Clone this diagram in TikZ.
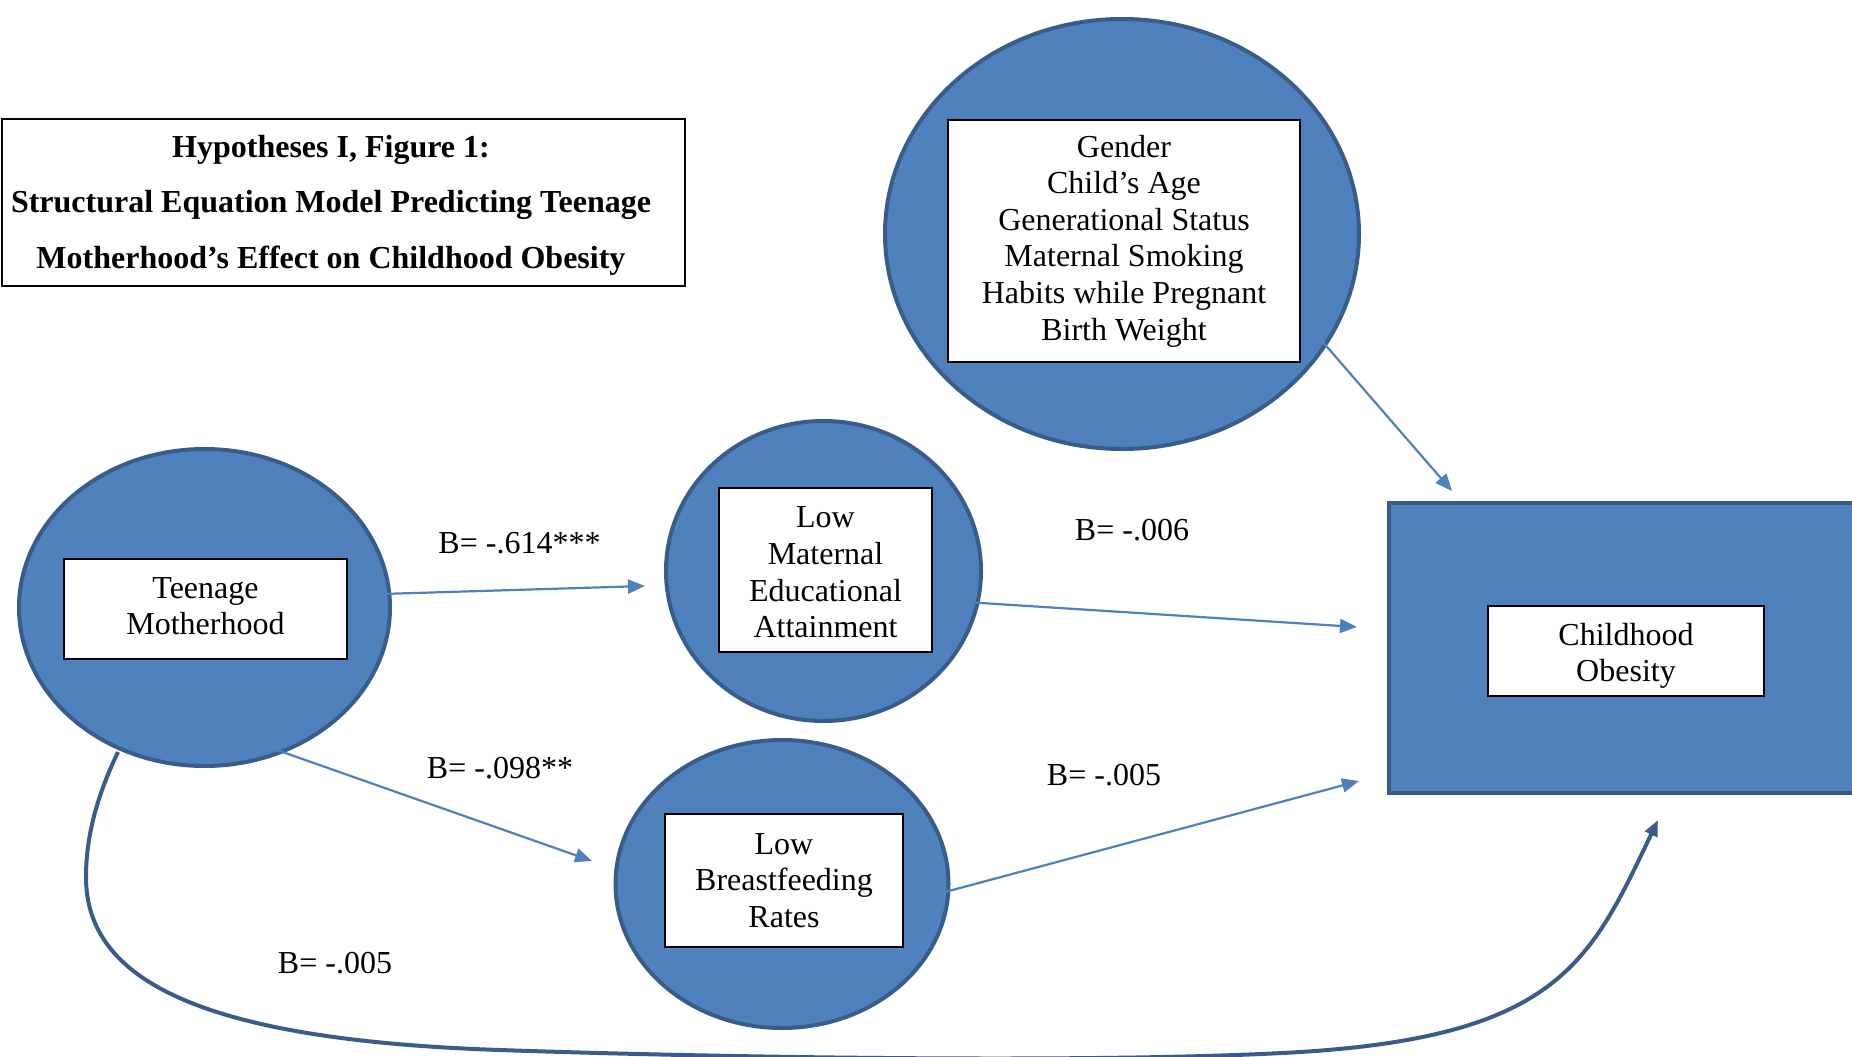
\documentclass[tikz,border=0pt]{standalone}
\usepackage{fontspec}
\setmainfont{Liberation Serif}
\usetikzlibrary{arrows.meta,shapes.geometric}
\definecolor{ofill}{HTML}{4F81BD}
\definecolor{oedge}{HTML}{385D8A}
\begin{document}
\begin{tikzpicture}[x=1pt,y=-1pt,
  blob/.style={ellipse, fill=ofill, draw=oedge, line width=4pt, inner sep=0pt},
  txtbox/.style={rectangle, fill=white, draw=black, line width=2pt, align=center, inner sep=0pt,
    font=\fontsize{32}{36.6}\selectfont},
  conn/.style={draw=ofill, line width=2.2pt, -{Triangle[length=17pt,width=14pt]}},
  curvy/.style={draw=oedge, line width=4pt, -{Triangle[length=16pt,width=13pt]}},
  lbl/.style={inner sep=0pt, font=\fontsize{32}{36.6}\selectfont}]
\useasboundingbox (0,0) rectangle (1852,1057);
\clip (0,0) rectangle (1852,1057);
\fill[white] (0,0) rectangle (1852,1057);

% title
\node[draw=black, line width=2pt, minimum width=683pt, minimum height=167pt, anchor=north west, inner sep=0pt] (titlebox) at (1,118) {};
\node[align=center, inner sep=0pt, font=\fontsize{32}{55.5}\selectfont\bfseries] (title) at (331,205)
  {Hypotheses I, Figure 1:\\Structural Equation Model Predicting Teenage\\Motherhood’s Effect on Childhood Obesity};

% shapes
\node[blob, minimum width=474pt, minimum height=430pt] (covE) at (1122,234) {};
\node[blob, minimum width=371pt, minimum height=317pt] (teenE) at (204.5,607.5) {};
\node[blob, minimum width=315pt, minimum height=300pt] (matE) at (823.5,571) {};
\node[blob, minimum width=333pt, minimum height=288pt] (bfE) at (782,884) {};
\node[rectangle, fill=ofill, draw=oedge, line width=4pt, minimum width=513pt, minimum height=290pt, anchor=north west, inner sep=0pt] (obR) at (1387,501) {};

% connector end points
\coordinate (s1) at (349,595);  \coordinate (e1) at (645,586);
\coordinate (s2) at (934,600);  \coordinate (e2) at (1357,627);
\coordinate (s3) at (257,743);  \coordinate (e3) at (592,861);
\coordinate (s4) at (904,903);  \coordinate (e4) at (1359,781);
\coordinate (s5) at (1302,318); \coordinate (e5) at (1452,491);
\coordinate (s6) at (118,752);  \coordinate (e6) at (1658,820);
\coordinate (m1) at (86,877);   \coordinate (m2) at (500,1050);
\coordinate (m3) at (1300,1052);

\draw[conn] (s1) -- (e1);
\draw[conn] (s2) -- (e2);
\draw[conn] (s3) -- (e3);
\draw[conn] (s4) -- (e4);
\draw[conn] (s5) -- (e5);
\draw[curvy] (s6) .. controls (95,800) and (86,840) .. (m1)
  .. controls (86,980) and (200,1040) .. (m2)
  .. controls (700,1057) and (1100,1064) .. (m3)
  .. controls (1560,1036) and (1591,960) .. (e6);

% inner boxes
\node[txtbox, minimum width=352pt, minimum height=242pt] (cov) at (1124,241)
  {Gender\\Child’s Age\\Generational Status\\Maternal Smoking\\Habits while Pregnant\\Birth Weight};
\node[txtbox, minimum width=283pt, minimum height=100pt] (teen) at (205.5,609) {Teenage\\Motherhood\rule[-6pt]{0pt}{6pt}};
\node[txtbox, minimum width=213pt, minimum height=164pt] (mat) at (825.5,570) {\rule{0pt}{26pt}Low\\Maternal\\Educational\\Attainment};
\node[txtbox, minimum width=238pt, minimum height=133pt] (bf) at (784,880.5) {Low\\Breastfeeding\\Rates};
\node[txtbox, minimum width=276pt, minimum height=90pt] (ob) at (1626,651) {\rule{0pt}{32pt}Childhood\\Obesity};

% labels
\node[lbl] (l1) at (519.5,543) {B= -.614***};
\node[lbl] (l2) at (1132,530) {B= -.006};
\node[lbl] (l3) at (500,768) {B= -.098**};
\node[lbl] (l4) at (1104,775) {B= -.005};
\node[lbl] (l5) at (335,963) {B= -.005};
\end{tikzpicture}
\end{document}
